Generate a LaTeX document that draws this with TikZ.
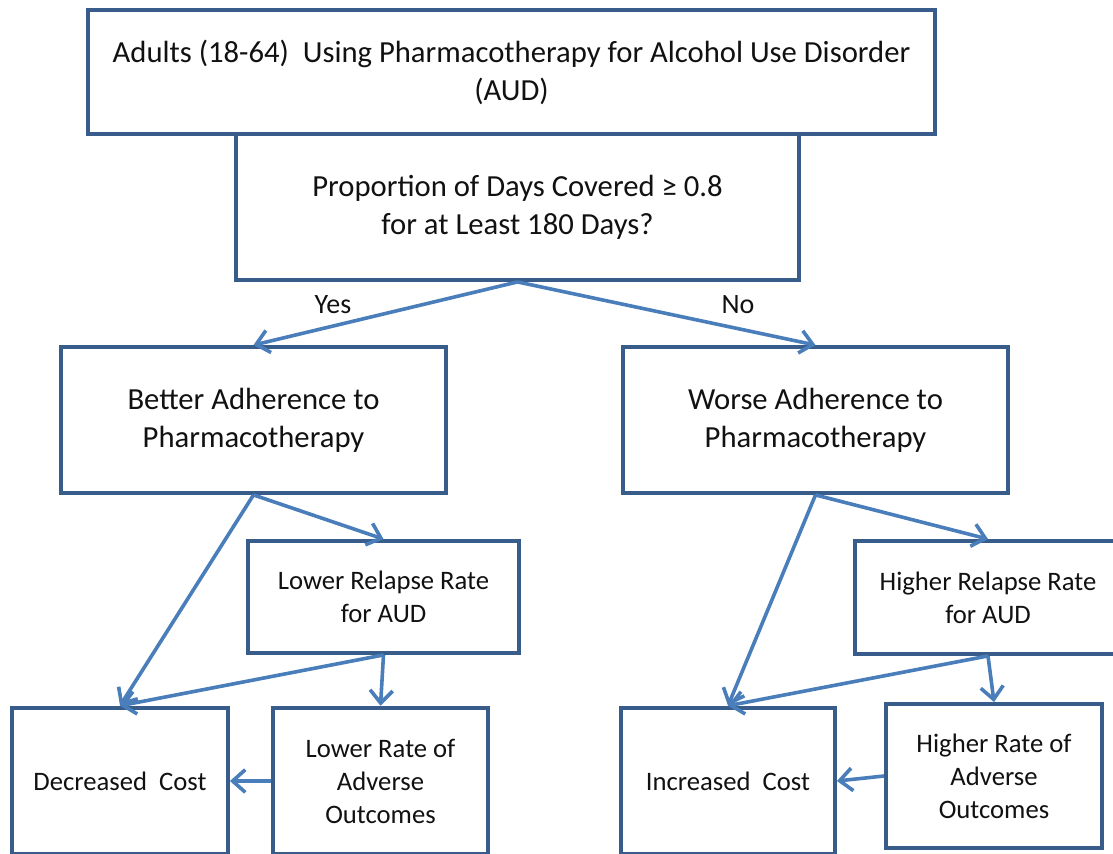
\documentclass[tikz,border=0pt]{standalone}
\usepackage{fontspec}
\setmainfont{Carlito}
\usetikzlibrary{arrows.meta}
\definecolor{boxc}{HTML}{385D8A}
\definecolor{arrc}{HTML}{4A7EBB}
\definecolor{txtc}{HTML}{111111}
\begin{document}
\begin{tikzpicture}[x=0.75pt,y=-0.75pt,
  box/.style={draw=boxc, line width=2.9pt, fill=white, align=center, inner sep=0pt, text=txtc},
  big/.style={font=\fontsize{23}{28.5}\selectfont},
  small/.style={font=\fontsize{20}{24.75}\selectfont},
  lbl/.style={font=\fontsize{21}{25}\selectfont, text=txtc, inner sep=0pt},
  arr/.style={draw=arrc, line width=2.7pt, -{Straight Barb[length=9.5pt,width=17pt]}},
]
\useasboundingbox (0,0) rectangle (1113,853);
\clip (0,0) rectangle (1113,853);

\node[box, big, minimum width=635.25pt, minimum height=93pt] (top) at (511.5,72)
  {Adults (18-64)\ \ Using Pharmacotherapy for Alcohol Use Disorder\\(AUD)};
\node[box, big, minimum width=422.25pt, minimum height=109.5pt] (pdc) at (517.5,207)
  {Proportion of Days Covered ≥ 0.8\\for at Least 180 Days?};
\node[box, big, minimum width=288.75pt, minimum height=109.5pt] (better) at (253.5,420)
  {Better Adherence to\\Pharmacotherapy};
\node[box, big, minimum width=288.75pt, minimum height=109.5pt] (worse) at (815.5,420)
  {Worse Adherence to\\Pharmacotherapy};
\node[box, small, minimum width=203.25pt, minimum height=84pt] (lowrel) at (383.5,597)
  {Lower Relapse Rate\\for AUD};
\node[box, small, minimum width=199.5pt, minimum height=84.75pt] (highrel) at (988,597.5)
  {Higher Relapse Rate\\for AUD};
\node[box, small, minimum width=162pt, minimum height=110pt] (dec) at (120,781)
  {Decreased\ \ Cost};
\node[box, small, minimum width=161.25pt, minimum height=110pt] (lowrate) at (380.5,781)
  {Lower Rate of\\Adverse\\Outcomes};
\node[box, small, minimum width=160.5pt, minimum height=110pt] (inc) at (728,781)
  {Increased\ \ Cost};
\node[box, small, minimum width=162pt, minimum height=108pt] (highrate) at (994,776)
  {Higher Rate of\\Adverse\\Outcomes};

\node[lbl] (yes) at (333,305) {Yes};
\node[lbl] (no) at (738,305) {No};

\draw[arr] (pdc.south) -- (better.north);
\draw[arr] (pdc.south) -- (worse.north);
\draw[arr] (better.south) -- (dec.north);
\draw[arr] (better.south) -- (lowrel.north);
\draw[arr] (lowrel.south) -- (dec.north);
\draw[arr] (lowrel.south) -- (lowrate.north);
\draw[arr] (lowrate.west) -- (dec.east);
\draw[arr] (worse.south) -- (inc.north);
\draw[arr] (worse.south) -- (highrel.north);
\draw[arr] (highrel.south) -- (inc.north);
\draw[arr] (highrel.south) -- (highrate.north);
\draw[arr] (highrate.west) -- (inc.east);
\end{tikzpicture}
\end{document}
